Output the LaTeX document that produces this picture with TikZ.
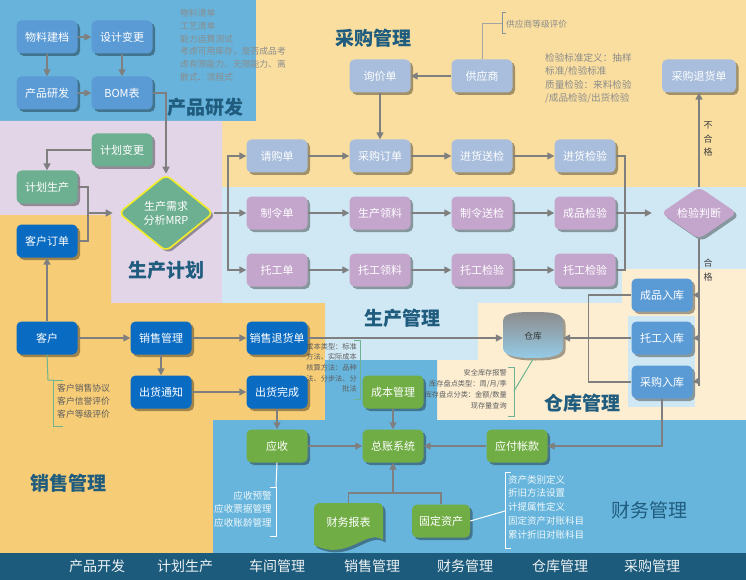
\documentclass[tikz,border=0pt]{standalone}
\usepackage{fontspec}
\setmainfont{Noto Sans CJK SC}
\usetikzlibrary{shapes.geometric,shadows,arrows.meta,calc}
\definecolor{cPeach}{HTML}{F9DE9F}
\definecolor{cTopBlue}{HTML}{67B3DB}
\definecolor{cPurple}{HTML}{E3D5E8}
\definecolor{cOrange}{HTML}{F6CC76}
\definecolor{cLightBlue}{HTML}{CFE8F4}
\definecolor{cCream}{HTML}{FDEED2}
\definecolor{cFin}{HTML}{67B5DC}
\definecolor{cBar}{HTML}{1C5B7B}
\definecolor{cDev}{HTML}{5A9AD5}
\definecolor{cPlan}{HTML}{6DAF91}
\definecolor{cCust}{HTML}{0A6BC2}
\definecolor{cSteel}{HTML}{A8BEDC}
\definecolor{cMauve}{HTML}{C4A5CC}
\definecolor{cStore}{HTML}{5B9BD5}
\definecolor{cGreen}{HTML}{71AD45}
\definecolor{cTitle}{HTML}{1F5C7E}
\definecolor{cLine}{HTML}{7F7F7F}
\definecolor{cNote}{HTML}{8C8C8C}
\definecolor{cNoteD}{HTML}{5E5E5E}
\definecolor{cBracket}{HTML}{6DB38F}
\definecolor{cYellow}{HTML}{F2EC2A}
\begin{document}
\begin{tikzpicture}[x=1pt,y=-1pt,
  nb/.style={rounded corners=5pt, minimum width=61pt, minimum height=33pt, inner sep=1pt, text=white,
    font=\fontsize{11}{13}\selectfont,
    drop shadow={shadow xshift=2.5pt, shadow yshift=-2.5pt, opacity=0.35, fill=black}},
  dev/.style={nb, fill=cDev},
  plan/.style={nb, fill=cPlan},
  cust/.style={nb, fill=cCust},
  steel/.style={nb, fill=cSteel},
  mauve/.style={nb, fill=cMauve},
  store/.style={nb, fill=cStore},
  fin/.style={nb, fill=cGreen},
  mrpd/.style={diamond, aspect=1.23, minimum width=95pt, minimum height=77pt, inner sep=0pt,
    fill=cPlan, draw=cYellow, line width=1.6pt, rounded corners=6pt, align=center, text=white,
    font=\fontsize{11}{14}\selectfont,
    drop shadow={shadow xshift=2.5pt, shadow yshift=-2.5pt, opacity=0.35, fill=black}},
  jyd/.style={diamond, aspect=1.46, minimum width=76pt, minimum height=52pt, inner sep=0pt,
    fill=cMauve, rounded corners=6pt, text=white, font=\fontsize{11}{13}\selectfont,
    drop shadow={shadow xshift=2.5pt, shadow yshift=-2.5pt, opacity=0.35, fill=black}},
  title/.style={text=cTitle, font=\fontsize{19}{22}\selectfont\bfseries, inner sep=0pt},
  bar/.style={text=white!92!cBar, font=\fontsize{14}{16}\selectfont, inner sep=0pt},
  ln/.style={draw=cLine, line width=1.5pt},
  arr/.style={ln, -{Triangle[length=7pt,width=7pt]}},
  note/.style={inner sep=0pt, align=left}
]
\useasboundingbox (0,0) rectangle (746,580);
% ---------- regions
\fill[cPeach] (0,0) rectangle (746,187);
\fill[cTopBlue] (0,0) rectangle (256,121);
\fill[cPurple] (0,121) -- (222,121) -- (222,303) -- (111,303) -- (111,215) -- (0,215) -- cycle;
\fill[cLightBlue] (222,187) -- (746,187) -- (746,269) -- (622,269) -- (622,303) -- (478,303) -- (478,360) -- (325,360) -- (325,303) -- (222,303) -- cycle;
\fill[cOrange] (0,215) -- (111,215) -- (111,303) -- (325,303) -- (325,420) -- (213,420) -- (213,553) -- (0,553) -- cycle;
\fill[cCream] (622,269) -- (746,269) -- (746,420) -- (437,420) -- (437,360) -- (478,360) -- (478,303) -- (622,303) -- cycle;
\fill[cLightBlue] (628,316) rectangle (695,407);
\fill[cFin] (325,360) -- (437,360) -- (437,420) -- (746,420) -- (746,553) -- (213,553) -- (213,420) -- (325,420) -- cycle;
\fill[cBar] (0,553) rectangle (746,580);

% ---------- titles
\node[title] (t1) at (205,107) {产品研发};
\node[title] (t2) at (166,270) {生产计划};
\node[title] (t3) at (373,38) {采购管理};
\node[title] (t4) at (402,318) {生产管理};
\node[title] (t5) at (582,403) {仓库管理};
\node[title] (t6) at (68,483) {销售管理};
\node[title, font=\fontsize{19}{22}\selectfont] (t7) at (649,510) {财务管理};

% ---------- bottom bar
\node[bar] (b1) at (97,566) {产品开发};
\node[bar] (b2) at (185,566) {计划生产};
\node[bar] (b3) at (277,566) {车间管理};
\node[bar] (b4) at (372,566) {销售管理};
\node[bar] (b5) at (465,566) {财务管理};
\node[bar] (b6) at (560,566) {仓库管理};
\node[bar] (b7) at (652,566) {采购管理};

% ---------- notes
\node[note, anchor=north west, text=cNote, font=\fontsize{8.8}{12.8}\selectfont] (n1) at (180,9)
  {物料清单\\工艺清单\\能力运算测试\\考虑可用库存，是否成品考\\虑有限能力、无限能力、离\\散式、流程式};
\node[note, anchor=north west, text=cNote, font=\fontsize{9.6}{13.4}\selectfont] (n2) at (545,53)
  {检验标准定义：抽样\\标准/检验标准\\质量检验：来料检验\\/成品检验/出货检验};
\node[note, anchor=west, text=cNote, font=\fontsize{8.7}{10}\selectfont] (n3) at (506,24) {供应商等级评价};
\node[note, anchor=north west, text=cNoteD, font=\fontsize{8.8}{13}\selectfont] (n4) at (57,384)
  {客户销售协议\\客户信誉评价\\客户等级评价};
\node[note, anchor=north east, align=right, text=cNoteD, font=\fontsize{7.2}{10.6}\selectfont] (n5) at (357,343)
  {成本类型：标准\\方法、实际成本\\核算方法：品种\\法、分步法、分\\批法};
\node[note, anchor=north east, align=right, text=cNoteD, font=\fontsize{7.2}{11}\selectfont] (n6) at (507,369)
  {安全库存报警\\库存盘点类型：周/月/季\\库存盘点分类：金额/数量\\现存量查询};
\node[note, anchor=north east, align=right, text=white!90!cFin, font=\fontsize{9.6}{13.5}\selectfont] (n7) at (272,491)
  {应收预警\\应收票据管理\\应收账龄管理};
\node[note, anchor=north west, text=white!90!cFin, font=\fontsize{9.5}{13.7}\selectfont] (n8) at (508,475)
  {资产类别定义\\折旧方法设置\\计提属性定义\\固定资产对账科目\\累计折旧对账科目};
\node[note, align=center, text=black!75, font=\fontsize{9}{13.5}\selectfont] (n9) at (708,139) {不\\合\\格};
\node[note, align=center, text=black!75, font=\fontsize{9}{13.5}\selectfont] (n10) at (708,270) {合\\格};

% ---------- brackets
\draw[cNote!80!cTopBlue, line width=1pt] (506,13) -- (502,13) -- (502,34) -- (506,34);
\draw[cBracket, line width=1pt] (63,380) -- (53,380) -- (53,426) -- (63,426);
\draw[cBracket, line width=1pt] (354,340) -- (360,340) -- (360,399) -- (354,399);
\draw[cBracket, line width=1pt] (508,367) -- (514,367) -- (514,416) -- (508,416);
\draw[white, line width=1pt] (270,487) -- (276,487) -- (276,536) -- (270,536);
\draw[white, line width=1pt] (511,472) -- (505,472) -- (505,548) -- (511,548);

% ---------- product development
\node[dev] (wl) at (47,37) {物料建档};
\node[dev] (sj) at (122,37) {设计变更};
\node[dev] (cp) at (47,93) {产品研发};
\node[dev] (bom) at (122,93) {BOM表};

% ---------- planning
\node[plan] (jb) at (122,150) {计划变更};
\node[plan] (jh) at (47,187) {计划生产};
\node[cust] (kd) at (47,241) {客户订单};
\node[mrpd] (mrp) at (166,213) {生产需求\\分析MRP};

% ---------- rows
\node[steel] (qg) at (277,156) {请购单};
\node[steel] (cgdd) at (380,156) {采购订单};
\node[steel] (jhsj) at (482,156) {进货送检};
\node[steel] (jhjy) at (585,156) {进货检验};
\node[mauve] (zld) at (277,213) {制令单};
\node[mauve] (scll) at (380,213) {生产领料};
\node[mauve] (zlsj) at (482,213) {制令送检};
\node[mauve] (cpjy) at (585,213) {成品检验};
\node[mauve] (tgd) at (277,270) {托工单};
\node[mauve] (tgll) at (380,270) {托工领料};
\node[mauve] (tgjy) at (482,270) {托工检验};
\node[mauve] (tgjyb) at (585,270) {托工检验};

% ---------- purchase top
\node[steel] (xjd) at (380,76) {询价单};
\node[steel] (gys) at (482,76) {供应商};
\node[steel, minimum width=74pt] (cgth) at (699,76) {采购退货单};
\node[jyd] (jy) at (699,213) {检验判断};

% ---------- warehouse
\node[store] (cprk) at (662,295) {成品入库};
\node[store] (tgrk) at (662,338) {托工入库};
\node[store] (cgrk) at (662,382) {采购入库};
\shade[top color=black!45, bottom color=cFin!70, drop shadow={shadow xshift=2.5pt, shadow yshift=-2.5pt, opacity=0.35, fill=black}]
  (503,322) .. controls (503,314) and (510,312) .. (533,312) .. controls (556,312) and (563,314) .. (563,322)
  -- (563,347) .. controls (563,354) and (556,358) .. (533,358) .. controls (510,358) and (503,354) .. (503,347) -- cycle;
\node[minimum width=60pt, minimum height=46pt, inner sep=0pt, text=black!80, font=\fontsize{8.7}{10}\selectfont] (ck) at (533,336) {仓库};

% ---------- sales
\node[cust] (kh) at (47,338) {客户};
\node[cust] (xsgl) at (161,338) {销售管理};
\node[cust] (xsth) at (277,338) {销售退货单};
\node[cust] (chtz) at (161,392) {出货通知};
\node[cust] (chwc) at (277,392) {出货完成};

% ---------- finance
\node[fin] (cbgl) at (393,392) {成本管理};
\node[fin] (zz) at (393,446) {总账系统};
\node[fin] (ys) at (277,446) {应收};
\node[fin] (yf) at (517,446) {应付帐款};
\node[fin, minimum width=58pt] (gd) at (441,521) {固定资产};
\path[fill=cGreen, drop shadow={shadow xshift=2.5pt, shadow yshift=-2.5pt, opacity=0.35, fill=black}]
  (314,545) [rounded corners=5pt] -- (314,503) -- (383,503) [sharp corners] -- (383,540)
  .. controls (366,528) and (348,562) .. (314,545) -- cycle;
\node[minimum width=69pt, minimum height=38pt, inner sep=0pt, text=white, font=\fontsize{11}{13}\selectfont] (fr) at (348.5,522) {财务报表};

% ---------- coordinates
\coordinate (j1) at (88,213);
\coordinate (b0) at (228,213);
\coordinate (h1) at (699,295);
\coordinate (h2) at (699,338);
\coordinate (h3) at (699,381);
\coordinate (v1) at (699,386);
\coordinate (m1) at (393,493);
\coordinate (r1) at (625,156);

% ---------- connectors
\draw[arr] (wl) -- (sj);
\draw[arr] (wl) -- (cp);
\draw[arr] (sj) -- (bom);
\draw[arr] (cp) -- (bom);
\draw[arr] (bom.east) -| (mrp.north);
\draw[arr] (jb.west) -| (jh.north);
\draw[ln] (jh.east) -| (j1) |- (kd.east);
\draw[arr, shorten >=5pt] (j1) -- (mrp.west);
\draw[arr] (kh) -- (kd);
\draw[ln] (mrp.east) -- (b0);
\draw[arr] (b0) |- (qg.west);
\draw[arr] (b0) -- (zld.west);
\draw[arr] (b0) |- (tgd.west);
\draw[arr] (qg) -- (cgdd);
\draw[arr] (cgdd) -- (jhsj);
\draw[arr] (jhsj) -- (jhjy);
\draw[arr] (zld) -- (scll);
\draw[arr] (scll) -- (zlsj);
\draw[arr] (zlsj) -- (cpjy);
\draw[arr] (tgd) -- (tgll);
\draw[arr] (tgll) -- (tgjy);
\draw[arr] (tgjy) -- (tgjyb);
\draw[ln] (jhjy.east) -- (r1) |- (tgjyb.east);
\draw[arr, shorten >=9pt] (cpjy.east) -- (jy.west);
\draw[arr] (gys) -- (xjd);
\draw[arr] (xjd) -- (cgdd);
\draw[arr] (jy.north) -- (cgth.south);
\draw[cNote!80!white, line width=1pt] (gys.north) |- (n3.west -| 502,24);
\draw[ln] (jy.south) -- (v1);
\draw[arr] (h1) -- (cprk.east);
\draw[arr] (h2) -- (tgrk.east);
\draw[arr] (h3) -- (cgrk.east);
\draw[ln] (cprk.west) -- ++(-43,0) |- (cgrk.west);
\draw[arr] (tgrk.west) -- (tgrk.west -| ck.east);
\draw[arr] (xsth.east) -- (xsth.east -| ck.west);
\draw[arr] (cgrk.south) |- (yf.east);
\draw[arr] (kh) -- (xsgl);
\draw[arr] (xsgl) -- (xsth);
\draw[arr] (xsgl) -- (chtz);
\draw[arr] (chtz) -- (chwc);
\draw[arr] (chwc) -- (ys);
\draw[arr] (ys) -- (zz);
\draw[arr] (yf) -- (zz);
\draw[arr] (cbgl) -- (zz);
\draw[ln] (fr.north) -- ++(0,-10) -| (gd.north);
\draw[arr] (m1) -- (zz.south);
% note leaders
\draw[cBracket, line width=1pt] (kh.south) -- (48,380) -- (53,380);
\draw[cBracket, line width=1pt] (ck.south) -- (514,391);
\draw[white, line width=1pt] (ys.south) -- (276,487);
\draw[white, line width=1pt] (gd.east) -- (505,511);
\end{tikzpicture}
\end{document}
